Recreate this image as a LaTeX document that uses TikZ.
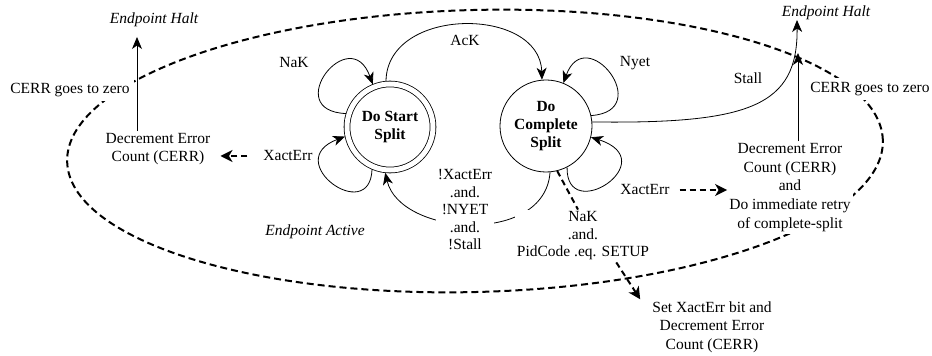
\documentclass[tikz,border=0pt]{standalone}
\usepackage{fontspec}
\setmainfont{Liberation Serif}
\usetikzlibrary{arrows.meta}
\begin{document}
\begin{tikzpicture}[x=1pt,y=1pt,
  every node/.style={font=\fontsize{15.5}{18}\selectfont, align=center},
  lbl/.style={fill=white, inner sep=2pt},
  state/.style={circle, draw, line width=0.8pt, minimum size=92pt, inner sep=0pt, font=\fontsize{15.5}{18}\selectfont\bfseries},
  tr/.style={line width=0.8pt, -{Stealth[length=12pt,width=10pt,inset=3.5pt]}},
  dline/.style={line width=2pt, dash pattern=on 6pt off 4pt},
  dtr/.style={dline, -{Stealth[length=12pt,width=12pt,inset=3.5pt]}},
  bound/.style={line width=2pt, dash pattern=on 7pt off 4pt}]
\useasboundingbox (0,0) rectangle (932,356);
% boundary of Endpoint Active
\draw[bound, rotate around={1.5:(475,205)}] (475,205) ellipse [x radius=408, y radius=141];
% states
\node[state, double, double distance=5pt, minimum size=86pt, outer sep=3pt] (ss) at (390,229) {Do Start\\Split};
\node[state] (cs) at (546,230) {Do\\Complete\\Split};
% transitions between states
\draw[tr] (ss.163) .. controls (280,245) and (350,335) .. (ss.112);
\draw[tr] (ss.247) .. controls (370,130) and (280,195) .. (ss.192);
\draw[tr] (cs.13) .. controls (656,245) and (586,335) .. (cs.68);
\draw[tr] (cs.297) .. controls (566,130) and (665,195) .. (cs.346);
\draw[tr] (ss.95) .. controls (387,350) and (540,350) .. (cs.95);
\draw[tr] (cs.275) .. controls (545,110) and (400,120) .. (ss.264);
\coordinate (haltTip) at (797,336);
\coordinate (tipR) at (798,303);
\coordinate (tipL) at (137,319);
\draw[tr] (cs.5) .. controls (750,232) and (798,250) .. (haltTip);
% labels
\node[lbl] (nakLoop) at (294,293) {NaK};
\node[lbl] (xeL) at (288,200) {XactErr};
\node[lbl] (ack) at (465,316) {AcK};
\node[lbl] (nyet) at (635,293) {Nyet};
\node[lbl, inner sep=4pt] (stall) at (748,278) {Stall};
\node[lbl] (xeR) at (645,166) {XactErr};
\node[lbl, font=\fontsize{15.5}{17.5}\selectfont] (bl) at (465,146) {!XactErr\\.and.\\!NYET\\.and.\\!Stall};
\node[lbl, font=\fontsize{15.5}{17.5}\selectfont] (nakL) at (583,120) {NaK\\.and.\\PidCode .eq. SETUP};
\node[lbl, font=\fontsize{15.5}{18.5}\selectfont] (setX) at (712,29) {Set XactErr bit and\\Decrement Error\\Count (CERR)};
\node[lbl] (decL) at (158,207) {Decrement Error\\Count (CERR)};
\node[lbl, font=\fontsize{15.5}{18.75}\selectfont] (decR) at (790,168.5) {Decrement Error\\Count (CERR)\\and\\Do immediate retry\\of complete-split};
\node[lbl, inner sep=4pt] (cerrL) at (70,266) {CERR goes to zero};
\node[lbl, inner sep=4pt] (cerrR) at (870,267) {CERR goes to zero};
\node[font=\fontsize{15.5}{18}\selectfont\itshape] (ehL) at (154,336) {Endpoint Halt};
\node[font=\fontsize{15.5}{18}\selectfont\itshape] (ehR) at (826,343) {Endpoint Halt};
\node[font=\fontsize{15.5}{18}\selectfont\itshape] (ea) at (315,124) {Endpoint Active};
% connectors to labels
\draw[tr] (tipL |- decL.north) -- (tipL);
\draw[tr] (tipR |- decR.north) -- (tipR);
\draw[dtr] ([xshift=-14pt]xeL.west) -- ([xshift=8pt]xeL.west -| decL.east);
\draw[dtr] ([xshift=8pt]xeR.east) -- (xeR.east -| decR.west);
\draw[dline] (cs.284) -- ([xshift=-5pt]nakL.north);
\draw[dtr] ([xshift=-35pt]nakL.south east) -- ([xshift=-10pt]setX.north west);
\end{tikzpicture}
\end{document}
